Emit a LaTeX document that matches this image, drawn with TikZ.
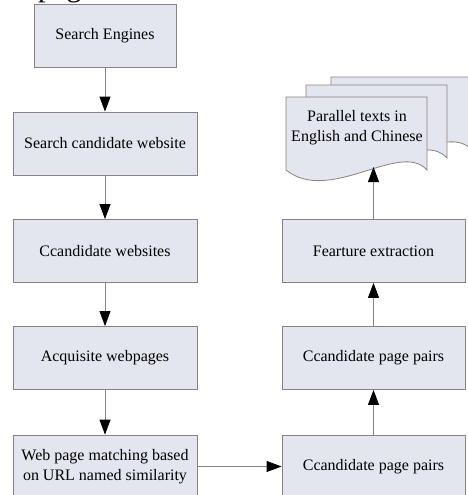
\documentclass[tikz,border=0pt]{standalone}
\usepackage{fontspec}
\setmainfont{Liberation Serif}
\usetikzlibrary{arrows.meta}

\begin{document}
\begin{tikzpicture}[x=1pt,y=-1pt,
    box/.style={draw=boxline,fill=boxfill,line width=0.8pt,inner sep=0pt,
        minimum width=184pt,minimum height=63pt,align=center,
        font=\fontsize{16}{20}\selectfont},
    flow/.style={draw=boxline,line width=0.8pt,
        -{Triangle[length=15pt,width=11pt,color=black]}},
    doc/.style={draw=boxline,fill=boxfill,line width=0.8pt}]
    \definecolor{boxfill}{HTML}{E3E6EE}
    \definecolor{boxline}{HTML}{8C7F7F}
    \useasboundingbox (0,0) rectangle (468,495);

    % cut text above
    \node[anchor=base west,inner sep=0pt,font=\fontsize{30}{30}\selectfont] (cut) at (38,-3) {pages};

    % left column
    \node[box,minimum width=142pt] (engine) at (105,35.5) {Search Engines};
    \node[box] (search) at (105,143.5) {Search candidate website};
    \node[box] (sites) at (105,251) {Ccandidate websites};
    \node[box] (pages) at (105,358) {Acquisite webpages};
    \node[box] (match) at (105,466.5) {Web page matching based\\on URL named similarity};

    % right column
    \node[box,minimum width=183pt] (pair1) at (373.5,466.5) {Ccandidate page pairs};
    \node[box,minimum width=183pt] (pair2) at (373.5,358) {Ccandidate page pairs};
    \node[box,minimum width=183pt] (feat) at (373.5,251) {Fearture extraction};

    % document stack
    \foreach \dx/\dy in {45/-20,20/-12,0/0}
        \draw[doc,shift={(\dx,\dy)}] (286,97) -- (427,97) -- (427,170)
            .. controls (400,140) and (330,205) .. (286,170) -- cycle;
    \node[align=center,font=\fontsize{16}{20}\selectfont] (par) at (357,128) {Parallel texts in\\English and Chinese};
    \coordinate (docbot) at (373.5,167);

    % connectors
    \draw[flow] (engine) -- (search);
    \draw[flow] (search) -- (sites);
    \draw[flow] (sites) -- (pages);
    \draw[flow] (pages) -- (match);
    \draw[flow] (match) -- (pair1);
    \draw[flow] (pair1) -- (pair2);
    \draw[flow] (pair2) -- (feat);
    \draw[flow] (feat) -- (docbot);
\end{tikzpicture}
\end{document}
